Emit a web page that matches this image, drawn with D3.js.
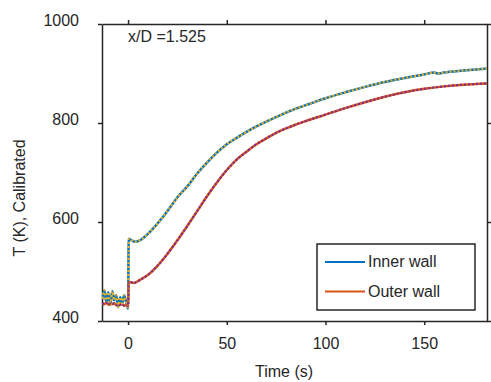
<!DOCTYPE html>
<html>
<head>
<meta charset="utf-8">
<script src="https://cdn.jsdelivr.net/npm/d3@7"></script>
<style>
  body { margin: 0; background: #fff; }
  text { font-family: "Liberation Sans", Arial, sans-serif; fill: #262626; }
</style>
</head>
<body>
<div id="chart"></div>
<script>
// time in seconds, temperature in K
var innerTime = [-13, -12, -11, -10, -9, -8, -7, -6, -5, -4, -3, -2, -1, 0, 0.3, 1, 3.5, 6, 9, 13, 17, 21, 25, 30, 35, 40, 45, 50, 55, 60, 65, 70, 75, 80, 85, 90, 100, 110, 120, 130, 140, 150, 155, 157, 160, 170, 182];
var innerTemp = [445, 462, 438, 458, 432, 460, 442, 452, 428, 448, 436, 452, 438, 425, 566, 565, 560, 563, 572, 588, 607, 628, 650, 672, 698, 720, 740, 757, 770, 782, 793, 803, 812, 821, 829, 836, 850, 862, 873, 883, 891, 898, 902, 900, 902, 906, 910];

var outerTime = [-13, -12, -11, -10, -9, -8, -7, -6, -5, -4, -3, -2, -1, 0, 0.3, 3, 6, 10, 15, 20, 25, 30, 35, 40, 45, 50, 55, 60, 65, 70, 75, 80, 85, 90, 100, 110, 120, 130, 140, 150, 160, 170, 182];
var outerTemp = [436, 434, 437, 433, 435, 434, 436, 432, 434, 433, 434, 431, 432, 430, 479, 477, 483, 493, 512, 536, 563, 592, 622, 652, 680, 705, 726, 742, 757, 769, 780, 789, 797, 804, 817, 830, 842, 853, 862, 869, 874, 877.5, 880];

var seriesNames = ["Inner wall", "Outer wall"];
var xTicks = [0, 50, 100, 150];
var yTicks = [400, 600, 800, 1000];
var annotation = "x/D =1.525";

var W = 491, H = 382;
var pLeft = 102, pRight = 487, pTop = 24, pBottom = 321;

var svg = d3.select("#chart").append("svg").attr("width", W).attr("height", H);

var x = d3.scaleLinear().domain([-13.2, 181.8]).range([pLeft, pRight]);
var y = d3.scaleLinear().domain([400, 1000]).range([pBottom, pTop]);

function styleAxis(g) {
    g.selectAll("path, line").attr("stroke", "#262626").attr("stroke-width", 1.5);
    g.selectAll("text").style("font-size", "16px").attr("fill", "#262626");
}

// box with outward ticks on every side
var gb = svg.append("g").attr("transform", "translate(0," + pBottom + ")")
    .call(d3.axisBottom(x).tickValues(xTicks).tickSize(4).tickSizeOuter(0).tickFormat(d3.format("d")));
gb.selectAll("text").attr("y", 28).attr("dy", 0);
styleAxis(gb);

var gt = svg.append("g").attr("transform", "translate(0," + pTop + ")")
    .call(d3.axisTop(x).tickValues(xTicks).tickSize(4).tickSizeOuter(0).tickFormat(""));
styleAxis(gt);

var gl = svg.append("g").attr("transform", "translate(" + pLeft + ",0)")
    .call(d3.axisLeft(y).tickValues(yTicks).tickSize(4).tickSizeOuter(0).tickFormat(d3.format("d")));
gl.selectAll("text").attr("x", -23).attr("y", -4);
styleAxis(gl);

var gr = svg.append("g").attr("transform", "translate(" + pRight + ",0)")
    .call(d3.axisRight(y).tickValues(yTicks).tickSize(4).tickSizeOuter(0).tickFormat(""));
styleAxis(gr);

// curves
svg.append("clipPath").attr("id", "plotclip")
    .append("rect").attr("x", pLeft).attr("y", pTop).attr("width", pRight - pLeft).attr("height", pBottom - pTop);

var line = d3.line().curve(d3.curveMonotoneX)
    .x(function(d) { return x(d[0]); }).y(function(d) { return y(d[1]); });
var innerData = d3.zip(innerTime, innerTemp);
var outerData = d3.zip(outerTime, outerTemp);

var plot = svg.append("g").attr("clip-path", "url(#plotclip)");
plot.append("path").datum(innerData).attr("d", line)
    .attr("fill", "none").attr("stroke", "#0072BD").attr("stroke-width", 2.5);
plot.append("path").datum(outerData).attr("d", line)
    .attr("fill", "none").attr("stroke", "#D95319").attr("stroke-width", 2.5);
plot.append("path").datum(innerData).attr("d", line)
    .attr("fill", "none").attr("stroke", "#EDB120").attr("stroke-width", 2.2).attr("stroke-dasharray", "2,2");
plot.append("path").datum(outerData).attr("d", line)
    .attr("fill", "none").attr("stroke", "#7E2F8E").attr("stroke-width", 2.2).attr("stroke-dasharray", "2,2");

// annotation
svg.append("text").attr("x", 128).attr("y", 42).style("font-size", "16px").text(annotation);

// axis titles
svg.append("text").attr("x", 284).attr("y", 377).attr("text-anchor", "middle")
    .style("font-size", "16px").text("Time (s)");
svg.append("text").attr("transform", "translate(25,198) rotate(-90)").attr("text-anchor", "middle")
    .style("font-size", "16px").text("T (K), Calibrated");

// legend
var lg = svg.append("g");
lg.append("rect").attr("x", 317).attr("y", 244).attr("width", 158).attr("height", 66)
    .attr("fill", "#fff").attr("stroke", "#262626").attr("stroke-width", 1.5);
var legColors = ["#0072BD", "#D95319"];
seriesNames.forEach(function(name, i) {
    var yy = 262 + i * 29.5;
    lg.append("line").attr("x1", 325).attr("x2", 365).attr("y1", yy).attr("y2", yy)
        .attr("stroke", legColors[i]).attr("stroke-width", 2);
    lg.append("text").attr("x", 368).attr("y", yy + 5).style("font-size", "16px").text(name);
});
</script>
</body>
</html>
